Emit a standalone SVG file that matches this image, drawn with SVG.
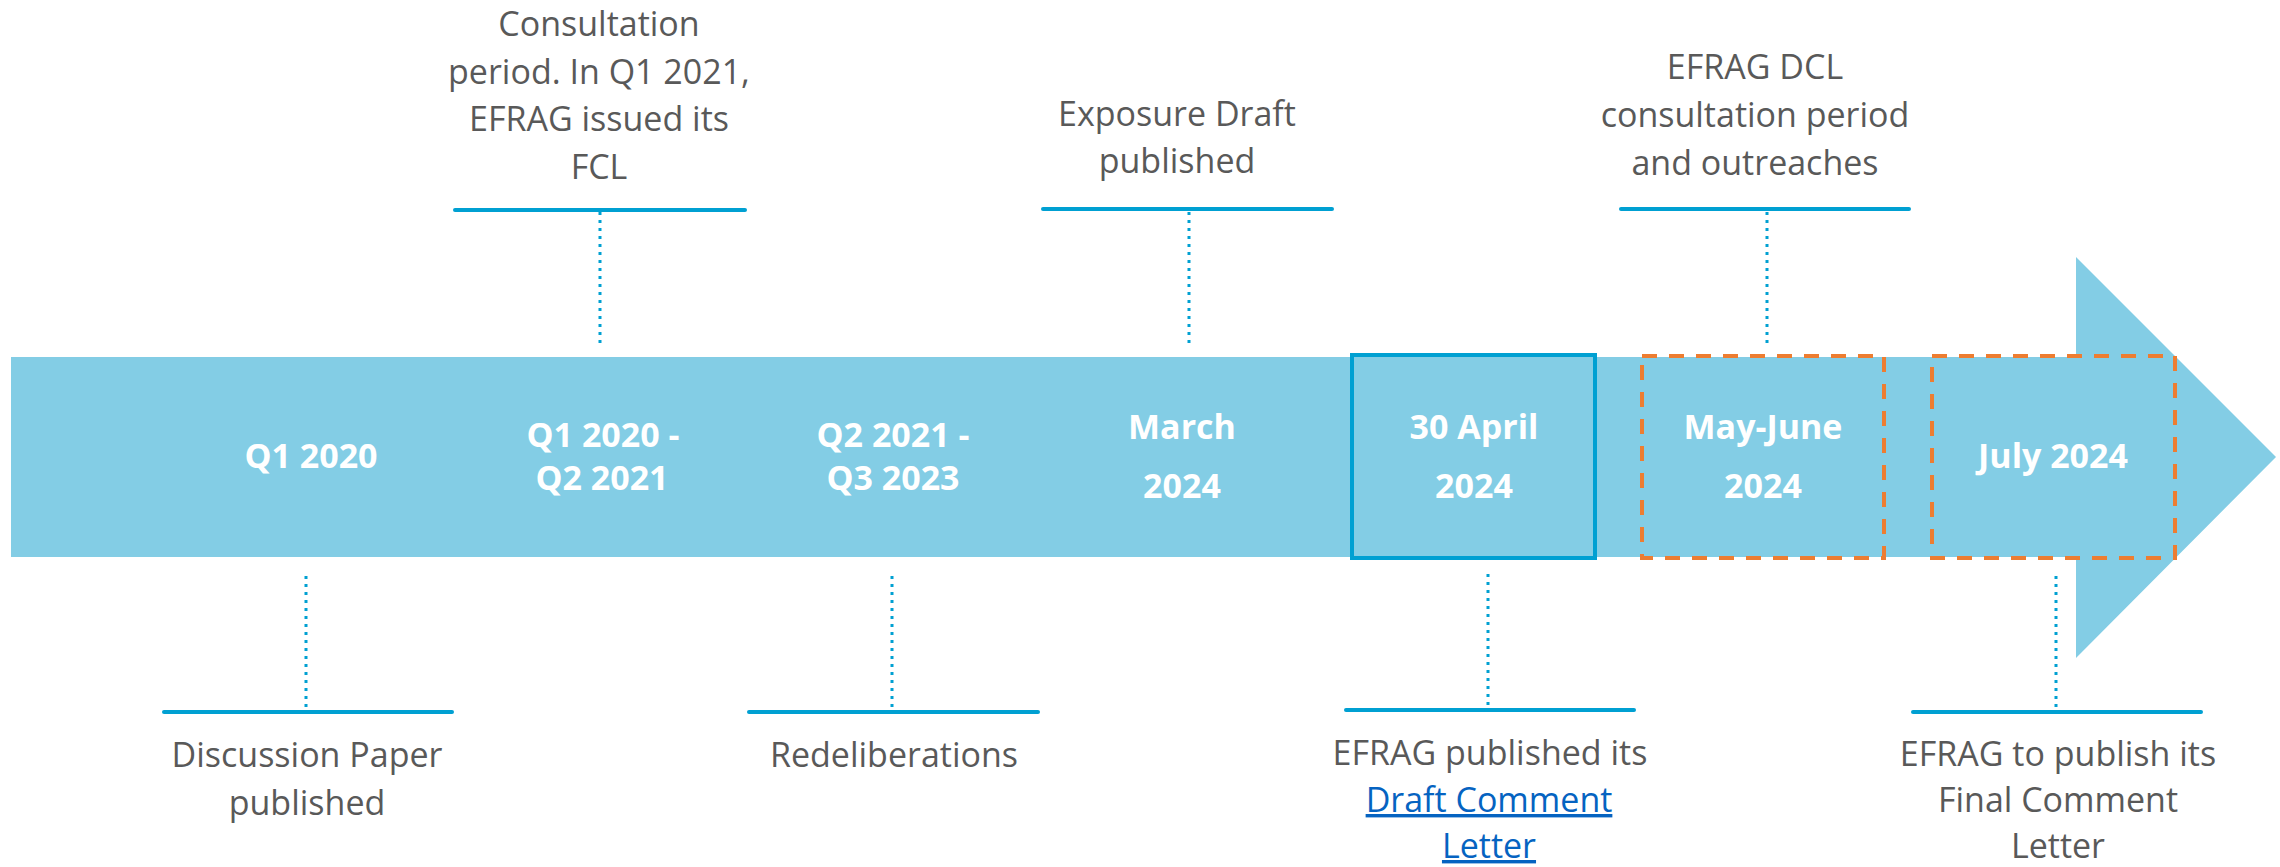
<svg xmlns="http://www.w3.org/2000/svg" width="2280" height="867" viewBox="0 0 2280 867">
<style>
.band{fill:#83CDE5}
.date{font-family:"Open Sans","Liberation Sans",sans-serif;font-weight:bold;font-size:34px;fill:#FFFFFF;text-anchor:middle}
.desc{font-family:"Open Sans","Liberation Sans",sans-serif;font-size:34px;fill:#595959;text-anchor:middle}
.link{fill:#0563C1;text-decoration:underline}
.bar{stroke:#00A0D2;stroke-width:4;stroke-linecap:round;fill:none}
.dot{stroke:#00A0D2;stroke-width:3;stroke-dasharray:3 5;fill:none}
.hl{fill:none;stroke:#00A0D2;stroke-width:4}
.dash{fill:none;stroke:#ED7D31;stroke-width:4;stroke-dasharray:15 12}
</style>
<rect x="0" y="0" width="2280" height="867" fill="#FFFFFF"/>

<g id="timeline-arrow">
<polygon class="band" points="11,357 2076,357 2076,257 2276,457 2076,658 2076,557 11,557"/>
</g>

<g id="connectors">
<line class="dot" x1="600" y1="212" x2="600" y2="346"/>
<line class="dot" x1="1189" y1="212" x2="1189" y2="346"/>
<line class="dot" x1="1767" y1="212" x2="1767" y2="346"/>
<line class="dot" x1="306" y1="576" x2="306" y2="710"/>
<line class="dot" x1="892" y1="576" x2="892" y2="710"/>
<line class="dot" x1="1488" y1="574" x2="1488" y2="708"/>
<line class="dot" x1="2056" y1="576" x2="2056" y2="710"/>
</g>

<g id="node-q1-2020">
<text class="date" x="311" y="468">Q1 2020</text>
</g>
<g id="node-q1-2020-q2-2021">
<text class="date" x="603" y="447">Q1 2020 -</text>
<text class="date" x="602" y="490">Q2 2021</text>
</g>
<g id="node-q2-2021-q3-2023">
<text class="date" x="893" y="447">Q2 2021 -</text>
<text class="date" x="893" y="490">Q3 2023</text>
</g>
<g id="node-march-2024">
<text class="date" x="1182" y="439">March</text>
<text class="date" x="1182" y="498">2024</text>
</g>
<g id="node-30-april-2024">
<rect class="hl" x="1352" y="355" width="243" height="203"/>
<text class="date" x="1474" y="439">30 April</text>
<text class="date" x="1474" y="498">2024</text>
</g>
<g id="node-may-june-2024">
<rect class="dash" x="1642" y="356" width="242" height="202"/>
<text class="date" x="1763" y="439">May-June</text>
<text class="date" x="1763" y="498">2024</text>
</g>
<g id="node-july-2024">
<rect class="dash" x="1932" y="356" width="243" height="202"/>
<text class="date" x="2053" y="468">July 2024</text>
</g>

<g id="desc-consultation">
<line class="bar" x1="455" y1="210" x2="745" y2="210"/>
<text class="desc" x="599" y="36">Consultation</text>
<text class="desc" x="599" y="84">period. In Q1 2021,</text>
<text class="desc" x="599" y="131">EFRAG issued its</text>
<text class="desc" x="599" y="179">FCL</text>
</g>
<g id="desc-exposure-draft">
<line class="bar" x1="1043" y1="209" x2="1332" y2="209"/>
<text class="desc" x="1177" y="126">Exposure Draft</text>
<text class="desc" x="1177" y="173">published</text>
</g>
<g id="desc-dcl-consultation">
<line class="bar" x1="1621" y1="209" x2="1909" y2="209"/>
<text class="desc" x="1755" y="79">EFRAG DCL</text>
<text class="desc" x="1755" y="127">consultation period</text>
<text class="desc" x="1755" y="175">and outreaches</text>
</g>
<g id="desc-discussion-paper">
<line class="bar" x1="164" y1="712" x2="452" y2="712"/>
<text class="desc" x="307" y="767">Discussion Paper</text>
<text class="desc" x="307" y="815">published</text>
</g>
<g id="desc-redeliberations">
<line class="bar" x1="749" y1="712" x2="1038" y2="712"/>
<text class="desc" x="894" y="767">Redeliberations</text>
</g>
<g id="desc-dcl-published">
<line class="bar" x1="1346" y1="710" x2="1634" y2="710"/>
<text class="desc" x="1490" y="765">EFRAG published its</text>
<text class="desc link" x="1489" y="812">Draft Comment</text>
<text class="desc link" x="1489" y="858">Letter</text>
</g>
<g id="desc-fcl">
<line class="bar" x1="1913" y1="712" x2="2201" y2="712"/>
<text class="desc" x="2058" y="766">EFRAG to publish its</text>
<text class="desc" x="2058" y="812">Final Comment</text>
<text class="desc" x="2058" y="858">Letter</text>
</g>
</svg>
